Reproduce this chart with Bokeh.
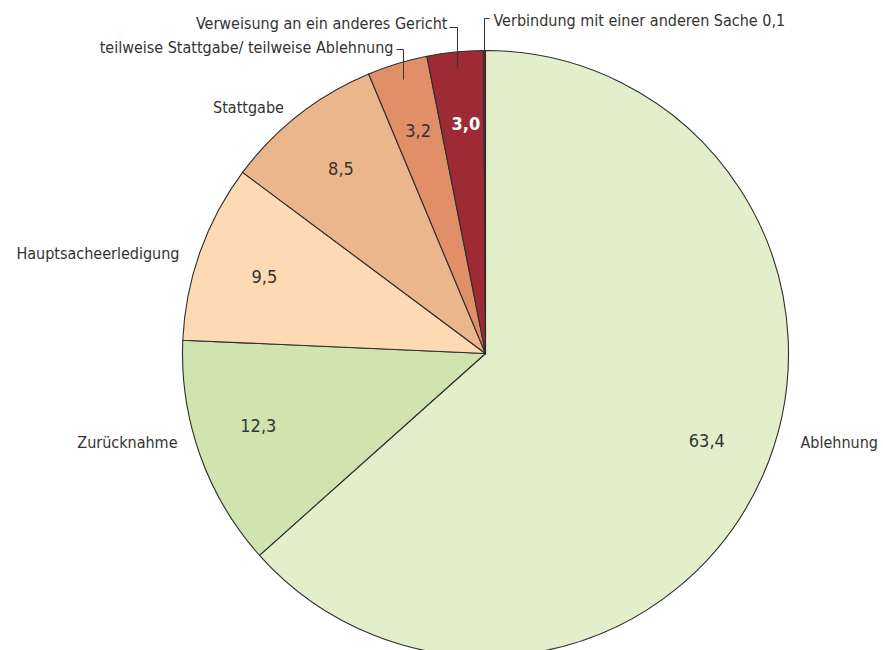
import math
from bokeh.plotting import figure
from bokeh.models import Range1d, ColumnDataSource
from bokeh.core.properties import value
from bokeh.embed import file_html
from bokeh.resources import INLINE

# ---- data ----
categories = ["Ablehnung", "Zurücknahme", "Hauptsacheerledigung", "Stattgabe",
              "teilweise Stattgabe/ teilweise Ablehnung",
              "Verweisung an ein anderes Gericht",
              "Verbindung mit einer anderen Sache 0,1"]
values = [63.4, 12.3, 9.5, 8.5, 3.2, 3.0, 0.1]
value_labels = ["63,4", "12,3", "9,5", "8,5", "3,2", "3,0", ""]
colors = ["#e3eecb", "#cfe4ae", "#fddab3", "#ecb68c", "#e08f68", "#9e2a35", "#7a2630"]

FONT = "DejaVu Sans Condensed"
TXT = "#333333"

W, H = 883, 650
p = figure(width=W, height=H, output_backend="svg", toolbar_location=None,
           x_range=Range1d(0, W), y_range=Range1d(0, H),
           x_axis_location=None, y_axis_location=None, min_border=0)
p.grid.visible = False
p.outline_line_color = None
p.background_fill_color = "white"

def py(page_y):  # picture y -> data y
    return H - page_y

cx, cy, R = 485, py(353), 303

total = sum(values)
starts, ends, mids = [], [], []
cum = 0.0
for v in values:
    a0 = math.pi / 2 - cum / total * 2 * math.pi
    cum += v
    a1 = math.pi / 2 - cum / total * 2 * math.pi
    starts.append(a0); ends.append(a1); mids.append((a0 + a1) / 2)

src = ColumnDataSource(dict(start=starts, end=ends, color=colors))
p.wedge(x=cx, y=cy, radius=R, start_angle="start", end_angle="end", direction="clock",
        fill_color="color", line_color="#2e2e2e", line_width=1.1, source=src)

# value labels inside the slices (small layout nudges, in pixels)
nudge = [(7, 9), (-6, 7), (0, -2), (0, 0), (1, -2), (4, -4), (0, 0)]
rl = 0.775 * R
vx = [cx + rl * math.cos(m) + n[0] for m, n in zip(mids, nudge)]
vy = [cy + rl * math.sin(m) + n[1] for m, n in zip(mids, nudge)]
vcol = [TXT] * len(values)
vcol[5] = "white"
vstyle = ["normal"] * len(values)
vstyle[5] = "bold"
vsrc = ColumnDataSource(dict(x=vx, y=vy, t=value_labels, c=vcol, s=vstyle))
p.text(x="x", y="y", text="t", text_color="c", text_font_style="s", source=vsrc,
       text_font=value(FONT), text_font_size="18px",
       text_align="center", text_baseline="middle")

# outer category labels (annotation layout)
lab_pos = [
    (800, 442, "left"),
    (177, 442, "right"),
    (179, 253, "right"),
    (248, 107, "center"),
    (393, 47, "right"),
    (447, 23, "right"),
    (493, 20, "left"),
]
for name, (x, y, al) in zip(categories, lab_pos):
    p.text(x=[x], y=[py(y)], text=[name], text_color=TXT, text_font=value(FONT),
           text_font_size="16px", text_align=al, text_baseline="middle")

# leader lines
leaders_x = [[484, 484, 489], [449, 457, 457], [396, 403, 403]]
leaders_y = [[py(50), py(18), py(18)], [py(27), py(27), py(67)], [py(49), py(49), py(79)]]
p.multi_line(xs=leaders_x, ys=leaders_y, line_color="#333333", line_width=1)

open("out.html", "w").write(file_html(p, INLINE))
